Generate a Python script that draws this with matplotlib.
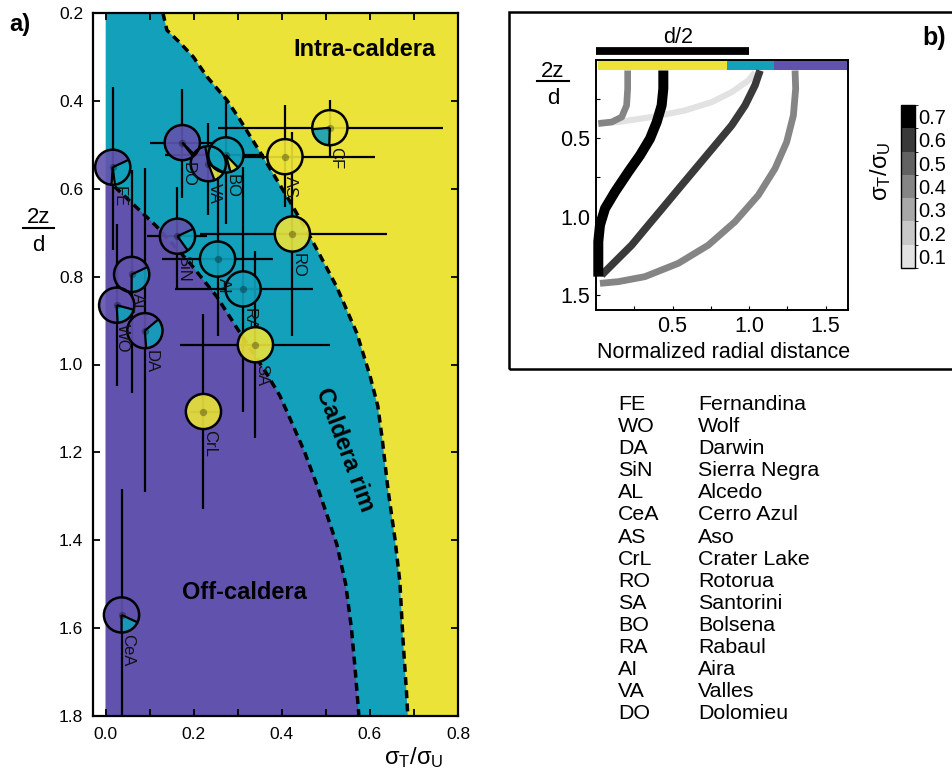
import numpy as np
import matplotlib
matplotlib.use("Agg")
import matplotlib.pyplot as plt
from matplotlib.patches import Wedge, Circle, Rectangle
from matplotlib.colors import ListedColormap, BoundaryNorm
from matplotlib.cm import ScalarMappable
from matplotlib.lines import Line2D

plt.rcParams['font.family'] = ['Liberation Sans', 'DejaVu Sans']
plt.rcParams['mathtext.fontset'] = 'custom'
plt.rcParams['mathtext.rm'] = 'Liberation Sans'
plt.rcParams['mathtext.it'] = 'Liberation Sans:italic'

# ---------------- Panel a data ----------------
volcano = ['FE', 'WO', 'DA', 'SiN', 'AL', 'CeA', 'AS', 'CrL', 'RO', 'SA', 'BO', 'RA', 'AI', 'VA', 'DO', 'CF']
sigma_ratio = [0.016, 0.025, 0.089, 0.163, 0.059, 0.036, 0.407, 0.222, 0.424, 0.340, 0.273, 0.312, 0.254, 0.233, 0.174, 0.509]
depth = [0.551, 0.865, 0.923, 0.708, 0.795, 1.570, 0.527, 1.107, 0.703, 0.955, 0.523, 0.828, 0.760, 0.543, 0.495, 0.461]
sigma_low = [0.016, 0.025, 0.089, 0.093, 0.059, 0.036, 0.305, 0.190, 0.214, 0.169, 0.135, 0.157, 0.127, 0.233, 0.100, 0.255]
sigma_high = [0.016, 0.025, 0.089, 0.229, 0.059, 0.036, 0.611, 0.260, 0.639, 0.509, 0.360, 0.470, 0.380, 0.233, 0.250, 0.766]
depth_low = [0.368, 0.680, 0.552, 0.595, 0.557, 1.284, 0.409, 0.886, 0.470, 0.742, 0.400, 0.550, 0.557, 0.450, 0.373, 0.398]
depth_high = [0.739, 1.050, 1.290, 0.830, 1.064, 1.850, 0.641, 1.330, 0.936, 1.167, 0.680, 1.109, 0.936, 0.660, 0.620, 0.530]
frac_off = [0.67, 0.80, 0.65, 0.78, 0.68, 0.82, 0, 0, 0, 0, 0, 0, 0, 0.53, 0.98, 0]
frac_intra = [0.03, 0, 0, 0, 0, 0, 1, 1, 1, 1, 0.08, 0, 0, 0.11, 0, 0.77]
frac_rim = [0.30, 0.20, 0.35, 0.22, 0.32, 0.18, 0, 0, 0, 0, 0.92, 1, 1, 0.36, 0.02, 0.23]
pie_start = [25, -15, 40, 25, 25, -25, 0, 0, 0, 0, 285, 0, 0, 100, -45, 268]

# region boundaries (sigma_T/sigma_U, 2z/d)
rim_inner_x = [0.0, 0.02, 0.116, 0.191, 0.252, 0.30, 0.365, 0.396, 0.426, 0.452, 0.478, 0.505, 0.525, 0.545, 0.558, 0.567, 0.575]
rim_inner_y = [0.58, 0.595, 0.686, 0.769, 0.845, 0.92, 1.02, 1.072, 1.14, 1.20, 1.27, 1.35, 1.41, 1.50, 1.60, 1.70, 1.80]
rim_outer_x = [0.13, 0.139, 0.169, 0.199, 0.230, 0.275, 0.305, 0.357, 0.419, 0.47, 0.524, 0.57, 0.60, 0.618, 0.628, 0.641, 0.657, 0.668, 0.675, 0.683, 0.686]
rim_outer_y = [0.2, 0.239, 0.268, 0.30, 0.345, 0.398, 0.443, 0.527, 0.63, 0.72, 0.822, 0.928, 1.025, 1.095, 1.17, 1.284, 1.398, 1.495, 1.625, 1.745, 1.80]

legend_abbr = ['FE', 'WO', 'DA', 'SiN', 'AL', 'CeA', 'AS', 'CrL', 'RO', 'SA', 'BO', 'RA', 'AI', 'VA', 'DO']
legend_name = ['Fernandina', 'Wolf', 'Darwin', 'Sierra Negra', 'Alcedo', 'Cerro Azul', 'Aso', 'Crater Lake',
               'Rotorua', 'Santorini', 'Bolsena', 'Rabaul', 'Aira', 'Valles', 'Dolomieu']

# ---------------- Panel b data ----------------
curve_black_x = [0.440, 0.440, 0.429, 0.397, 0.353, 0.288, 0.211, 0.124, 0.059, 0.026, 0.015, 0.015, 0.015]
curve_black_y = [0.067, 0.183, 0.290, 0.396, 0.502, 0.608, 0.715, 0.842, 0.948, 1.054, 1.160, 1.288, 1.383]
curve_dark_x = [1.072, 1.039, 0.974, 0.887, 0.778, 0.669, 0.560, 0.451, 0.342, 0.233, 0.124, 0.037]
curve_dark_y = [0.067, 0.162, 0.290, 0.417, 0.545, 0.672, 0.799, 0.927, 1.054, 1.182, 1.288, 1.373]
curve_gray_x = [1.301, 1.305, 1.290, 1.246, 1.170, 1.061, 0.908, 0.734, 0.538, 0.320, 0.146, 0.026]
curve_gray_y = [0.067, 0.183, 0.354, 0.524, 0.693, 0.863, 1.033, 1.182, 1.298, 1.383, 1.415, 1.426]
curve_light_x = [0.026, 0.146, 0.364, 0.582, 0.756, 0.887, 0.996, 1.039]
curve_light_y = [0.400, 0.396, 0.364, 0.322, 0.269, 0.205, 0.131, 0.078]
curve_hook_x = [0.015, 0.103, 0.168, 0.200, 0.207, 0.207]
curve_hook_y = [0.406, 0.396, 0.364, 0.290, 0.183, 0.067]
curve_values = [0.1, 0.4, 0.4, 0.6, 0.7]  # light, hook, gray, dark, black
strip_edges = [0.015, 0.856, 1.166, 1.647]
d_half = [0.0, 1.0]
cbar_levels = [0.1, 0.2, 0.3, 0.4, 0.5, 0.6, 0.7]
cbar_grays = ['#e2e2e2', '#c8c8c8', '#a8a8a8', '#858585', '#626262', '#3a3a3a', '#000000']

PURPLE = '#6152ad'
CYAN = '#12a0bb'
YELLOW = '#ece339'

W, H = 953, 771
fig = plt.figure(figsize=(W / 100, H / 100), dpi=100)


def fx(px):
    return px / W


def fy(py):
    return 1 - py / H


# ================= Panel a =================
ax = fig.add_axes([fx(93), fy(716), 365 / W, 703 / H])
ax.set_xlim(-0.0288, 0.7996)
ax.set_ylim(1.8, 0.2)

ax.fill([0, 0.8, 0.8, 0], [0.2, 0.2, 1.8, 1.8], color=YELLOW, lw=0, zorder=0)
ax.fill([0] + rim_outer_x + [0], [0.2] + rim_outer_y + [1.8], color=CYAN, lw=0, zorder=0.5)
ax.fill(rim_inner_x + [0], rim_inner_y + [1.8], color=PURPLE, lw=0, zorder=0.6)
ax.plot(rim_inner_x[1:], rim_inner_y[1:], color='k', lw=2.5, dashes=(2.3, 1.5), zorder=1)
ax.plot(rim_outer_x, rim_outer_y, color='k', lw=2.5, dashes=(2.3, 1.5), zorder=1)

ax.text(0.587, 0.298, 'Intra-caldera', fontsize=17, fontweight='bold', ha='center', va='baseline', zorder=2)
ax.text(0.316, 1.534, 'Off-caldera', fontsize=17, fontweight='bold', ha='center', va='baseline', zorder=2)
ax.text(0.543, 1.193, 'Caldera rim', fontsize=17, fontweight='bold', ha='center', va='center',
        rotation=-69.6, rotation_mode='anchor', zorder=2)

xs = np.array(sigma_ratio)
ys = np.array(depth)
xerr = [xs - np.array(sigma_low), np.array(sigma_high) - xs]
yerr = [ys - np.array(depth_low), np.array(depth_high) - ys]
ax.errorbar(xs, ys, xerr=xerr, yerr=yerr, fmt='none', ecolor='k', elinewidth=1.6, capsize=0, zorder=3)

R = 0.040
for i in range(len(volcano)):
    x, y = sigma_ratio[i], depth[i]
    parts = [(f, c) for f, c in zip([frac_off[i], frac_intra[i], frac_rim[i]], [PURPLE, YELLOW, CYAN]) if f > 0]
    if len(parts) == 1:
        ax.add_patch(Circle((x, y), R, fc=parts[0][1], ec='none', alpha=0.9, zorder=4))
    else:
        ang = pie_start[i]
        for f, c in parts:
            a2 = ang + 360 * f
            ax.add_patch(Wedge((x, y), R, -a2, -ang, fc=c, ec='none', alpha=0.9, zorder=4))
            ax.plot([x, x + R * np.cos(np.radians(ang))], [y, y - R * np.sin(np.radians(ang))],
                    color='k', lw=1.6, zorder=5, solid_capstyle='butt')
            ang = a2
    ax.add_patch(Circle((x, y), R, fc='none', ec='k', lw=1.8, zorder=6))
    ax.text(x + 0.0136, y + 0.043, volcano[i], rotation=-90, ha='center', va='top',
            fontsize=12, color='#111111', zorder=7)
ax.scatter(xs, ys, s=28, c='k', alpha=0.3, lw=0, zorder=6.5)

ax.set_xticks([0.0, 0.2, 0.4, 0.6, 0.8])
ax.set_xticks([0.1, 0.3, 0.5, 0.7], minor=True)
ax.set_xticklabels(['0.0', '0.2', '0.4', '0.6', '0.8'])
ax.set_yticks([0.2, 0.4, 0.6, 0.8, 1.0, 1.2, 1.4, 1.6, 1.8])
ax.set_yticklabels(['0.2', '0.4', '0.6', '0.8', '1.0', '1.2', '1.4', '1.6', '1.8'])
ax.tick_params(which='both', direction='in', length=5, width=1.3, top=True, right=True, labelsize=12.5)
ax.tick_params(axis='x', pad=8)
ax.tick_params(axis='y', pad=7)
for s in ax.spines.values():
    s.set_linewidth(1.6)

fig.text(fx(20), fy(25), 'a)', fontsize=17, fontweight='bold', ha='center', va='center')
fig.text(fx(38.5), fy(223), '2z', fontsize=16, ha='center', va='baseline')
fig.add_artist(Line2D([fx(23), fx(54)], [fy(228), fy(228)], color='k', lw=1.5))
fig.text(fx(38.5), fy(251), 'd', fontsize=16, ha='center', va='baseline')
fig.text(fx(414), fy(758), r'$\mathregular{\sigma_T/\sigma_U}$', fontsize=17, ha='center', va='center')

# ================= Panel b =================
fig.add_artist(Rectangle((fx(509), fy(369)), (965 - 509) / W, (369 - 12) / H, transform=fig.transFigure,
                         fill=False, ec='k', lw=1.8))
ax2 = fig.add_axes([fx(596), fy(310), 252 / W, 250 / H])
ax2.set_xlim(0, 1.647)
ax2.set_ylim(1.596, 0)

strip_cols = [YELLOW, CYAN, PURPLE]
for j in range(3):
    ax2.add_patch(Rectangle((strip_edges[j], 0.003), strip_edges[j + 1] - strip_edges[j], 0.064,
                            color=strip_cols[j], lw=0, zorder=1))

gray_map = dict(zip(cbar_levels, cbar_grays))
curves = [(curve_light_x, curve_light_y, 4.4), (curve_hook_x, curve_hook_y, 4.8),
          (curve_gray_x, curve_gray_y, 4.9), (curve_dark_x, curve_dark_y, 5.4),
          (curve_black_x, curve_black_y, 7.2)]
for k, (cx, cy, lw) in enumerate(curves):
    ax2.plot(cx, cy, color=gray_map[curve_values[k]], lw=lw, solid_capstyle='butt',
             solid_joinstyle='round', zorder=2 + k, clip_on=False)

ax2.plot(d_half, [-0.055, -0.055], color='k', lw=5.6, solid_capstyle='butt', clip_on=False)
ax2.text(0.54, -0.11, 'd/2', fontsize=15.5, ha='center', va='baseline')

ax2.set_xticks([0.5, 1.0, 1.5])
ax2.set_xticklabels(['0.5', '1.0', '1.5'])
ax2.set_xticks([0.25, 0.75, 1.25], minor=True)
ax2.set_yticks([0.5, 1.0, 1.5])
ax2.set_yticklabels(['0.5', '1.0', '1.5'])
ax2.set_yticks([0.25, 0.75, 1.25], minor=True)
ax2.tick_params(which='both', direction='in', length=3, width=0.8, labelsize=15.5)
ax2.tick_params(axis='x', pad=4)
ax2.tick_params(axis='y', pad=4)
for s in ax2.spines.values():
    s.set_linewidth(1.4)

fig.text(fx(724), fy(358), 'Normalized radial distance', fontsize=15.5, ha='center', va='baseline')
fig.text(fx(553), fy(77), '2z', fontsize=16, ha='center', va='baseline')
fig.add_artist(Line2D([fx(537), fx(569)], [fy(81), fy(81)], color='k', lw=1.5))
fig.text(fx(553), fy(104), 'd', fontsize=16, ha='center', va='baseline')
fig.text(fx(934), fy(38), 'b)', fontsize=18, fontweight='bold', ha='center', va='center')

# colorbar
ax3 = fig.add_axes([fx(901), fy(268), 14 / W, 163 / H])
cmap = ListedColormap(cbar_grays)
bounds = [0.05, 0.15, 0.25, 0.35, 0.45, 0.55, 0.65, 0.75]
norm = BoundaryNorm(bounds, cmap.N)
cb = fig.colorbar(ScalarMappable(norm=norm, cmap=cmap), cax=ax3, ticks=cbar_levels)
cb.set_ticklabels(['%.1f' % v for v in cbar_levels])
cb.ax.tick_params(length=0, labelsize=14.5, pad=2)
cb.outline.set_linewidth(1.0)
fig.text(fx(881), fy(171), r'$\mathregular{\sigma_T/\sigma_U}$', fontsize=17, rotation=90,
         ha='center', va='center')

# legend table
for i, (ab, nm) in enumerate(zip(legend_abbr, legend_name)):
    yb = 410 + i * 22.1
    fig.text(fx(618), fy(yb), ab, fontsize=15.4, ha='left', va='baseline')
    fig.text(fx(698), fy(yb), nm, fontsize=15.4, ha='left', va='baseline')

fig.savefig('out.png', dpi=100)
